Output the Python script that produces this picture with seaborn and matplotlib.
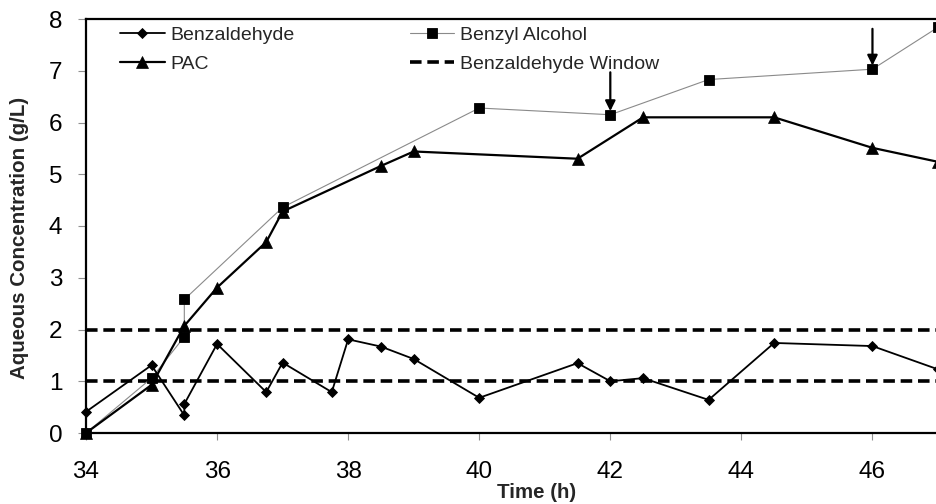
import matplotlib
matplotlib.use("Agg")
import matplotlib.pyplot as plt
from matplotlib.lines import Line2D
import pandas as pd
import seaborn as sns

# Sampling times (h) and aqueous concentrations (g/L)
time_benzaldehyde = [34, 35, 35.5, 35.5, 36, 36.75, 37, 37.75, 38, 38.5, 39,
                     40, 41.5, 42, 42.5, 43.5, 44.5, 46, 47]
benzaldehyde = [0.41, 1.31, 0.34, 0.56, 1.72, 0.79, 1.36, 0.79, 1.81, 1.67, 1.43,
                0.68, 1.35, 1.00, 1.06, 0.64, 1.74, 1.68, 1.23]

time_alcohol = [34, 35, 35.5, 35.5, 37, 40, 42, 43.5, 46, 47]
benzyl_alcohol = [0.0, 1.06, 1.86, 2.58, 4.36, 6.28, 6.15, 6.83, 7.03, 7.84]

time_pac = [34, 35, 35.5, 36, 36.75, 37, 38.5, 39, 41.5, 42.5, 44.5, 46, 47]
pac = [0.0, 0.93, 2.07, 2.81, 3.69, 4.28, 5.16, 5.44, 5.30, 6.10, 6.10, 5.51, 5.24]

# Target benzaldehyde concentration window (g/L)
window_bounds = [1.0, 2.0]

# Feed additions marked with arrows: time, arrow tail, arrow tip (g/L)
feed_times = [42, 46]
feed_tails = [6.97, 7.81]
feed_tips = [6.22, 7.10]

x_ticks = [34, 36, 38, 40, 42, 44, 46]
y_ticks = [0, 1, 2, 3, 4, 5, 6, 7, 8]

sns.set_style("ticks")
plt.rcParams["font.family"] = ["Liberation Sans", "DejaVu Sans"]

W, H = 937, 504
fig = plt.figure(figsize=(W / 100, H / 100), dpi=100)
ax = fig.add_axes([86 / W, 1 - 433 / H, 852 / W, 414 / H])

df_b = pd.DataFrame({"t": time_benzaldehyde, "c": benzaldehyde})
df_a = pd.DataFrame({"t": time_alcohol, "c": benzyl_alcohol})
df_p = pd.DataFrame({"t": time_pac, "c": pac})

for y in window_bounds:
    ax.axhline(y, color="black", lw=2.6, dashes=(3.2, 1.6), zorder=2)

sty_a = dict(color="#8a8a8a", lw=0.8, marker="s", ms=6.8, mfc="black",
             mec="black", mew=0.6)
sty_p = dict(color="black", lw=1.6, marker="^", ms=8.0, mfc="black",
             mec="black", mew=0.5)
sty_b = dict(color="black", lw=1.3, marker="D", ms=5.6, mfc="black",
             mec="black", mew=0.6)

sns.lineplot(data=df_a, x="t", y="c", sort=False, estimator=None, ax=ax,
             zorder=3, clip_on=False, **sty_a)
sns.lineplot(data=df_p, x="t", y="c", sort=False, estimator=None, ax=ax,
             zorder=4, clip_on=False, **sty_p)
sns.lineplot(data=df_b, x="t", y="c", sort=False, estimator=None, ax=ax,
             zorder=5, clip_on=False, **sty_b)

for t, top, tip in zip(feed_times, feed_tails, feed_tips):
    ax.annotate("", xy=(t, tip), xytext=(t, top),
                arrowprops=dict(arrowstyle="-|>", color="black", lw=1.6,
                                mutation_scale=15, shrinkA=0, shrinkB=0),
                zorder=6)

ax.set_xlim(34, 47)
ax.set_ylim(0, 8)
ax.set_xticks(x_ticks)
ax.set_yticks(y_ticks)
ax.tick_params(axis="both", labelsize=17.5, colors="#909090", labelcolor="black",
               width=0.8, direction="out")
ax.tick_params(axis="y", length=6, pad=11)
ax.tick_params(axis="x", length=5, pad=15)

for side in ["left", "bottom", "top"]:
    ax.spines[side].set_color("black")
    ax.spines[side].set_linewidth(1.6)
ax.spines["right"].set_visible(False)

ax.set_xlabel("Time (h)", fontsize=14.8, fontweight="bold")
ax.set_ylabel("Aqueous Concentration (g/L)", fontsize=14.8, fontweight="bold")
ax.xaxis.set_label_coords((537 - 86) / 852, -(483 - 433) / 414)
ax.yaxis.set_label_coords(-(86 - 29) / 852, (433 - 238) / 414)

handles = [
    Line2D([], [], **sty_b),
    Line2D([], [], **sty_p),
    Line2D([], [], **sty_a),
    Line2D([], [], color="black", lw=2.6, dashes=(3.2, 1.6)),
]
labels = ["Benzaldehyde", "PAC", "Benzyl Alcohol", "Benzaldehyde Window"]
ax.legend(handles, labels, ncol=2, frameon=False, fontsize=14,
          loc="upper left", bbox_to_anchor=(120 / W, 1 - 26 / H),
          bbox_transform=fig.transFigure, borderpad=0, borderaxespad=0,
          handlelength=2.3, handletextpad=0.3, columnspacing=5.9,
          labelspacing=0.62)

fig.savefig("out.png", dpi=100)
